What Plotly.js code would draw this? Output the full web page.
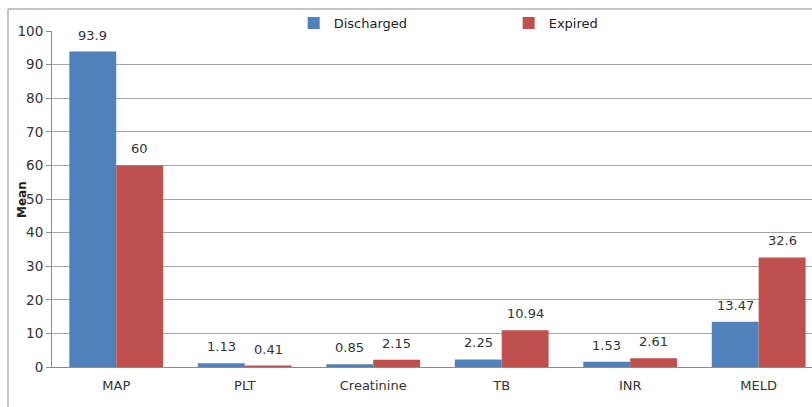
<!DOCTYPE html>
<html>
<head>
<meta charset="utf-8">
<script src="https://cdn.plot.ly/plotly-3.0.1.min.js"></script>
<style>html,body{margin:0;padding:0;overflow:hidden;background:#fff;}</style>
</head>
<body>
<div id="chart" style="width:812px;height:407px;"></div>
<script>
const categories = ["MAP", "PLT", "Creatinine", "TB", "INR", "MELD"];
const discharged = [93.9, 1.13, 0.85, 2.25, 1.53, 13.47];
const expired = [60, 0.41, 2.15, 10.94, 2.61, 32.6];
const dischargedLabels = ["93.9", "1.13", "0.85", "2.25", "1.53", "13.47"];
const expiredLabels = ["60", "0.41", "2.15", "10.94", "2.61", "32.6"];
const yTicks = [0, 10, 20, 30, 40, 50, 60, 70, 80, 90, 100];

const BLUE = "#4f81bd", RED = "#c0504d";
const FONT = "DejaVu Sans, Verdana, sans-serif";
const bargap = 0.27;
const half = (1 - bargap) / 4;

const traces = [
  {type: "bar", name: "Discharged", x: categories, y: discharged,
   marker: {color: BLUE}, hoverinfo: "none"},
  {type: "bar", name: "Expired", x: categories, y: expired,
   marker: {color: RED}, hoverinfo: "none"}
];

const annotations = [];
categories.forEach((c, i) => {
  annotations.push({x: i - half, y: discharged[i], xref: "x", yref: "y",
    text: dischargedLabels[i], showarrow: false, yanchor: "bottom", yshift: 7,
    font: {family: FONT, size: 13, color: "#333"}});
  annotations.push({x: i + half, y: expired[i], xref: "x", yref: "y",
    text: expiredLabels[i], showarrow: false, yanchor: "bottom", yshift: 7,
    font: {family: FONT, size: 13, color: "#333"}});
});
annotations.push({xref: "paper", yref: "paper", x: -0.0395, y: 0.5, xanchor: "center", yanchor: "middle",
  text: "<b>Mean</b>", textangle: -90, showarrow: false,
  font: {family: FONT, size: 12, color: "#222"}});

const layout = {
  width: 812, height: 407,
  margin: {l: 52, r: 0, t: 31, b: 40},
  paper_bgcolor: "#fff", plot_bgcolor: "#fff",
  barmode: "group", bargap: bargap, bargroupgap: 0,
  font: {family: FONT, size: 13, color: "#333"},
  showlegend: true,
  legend: {orientation: "h", x: 0.318, y: 1.024, xanchor: "left", yanchor: "middle",
    entrywidth: 170, entrywidthmode: "pixels",
    font: {family: FONT, size: 13, color: "#222"}, bgcolor: "rgba(0,0,0,0)"},
  xaxis: {type: "category", range: [-0.5, 5.415], showgrid: false,
    showline: true, linecolor: "#8c8c8c", linewidth: 1, ticks: "", ticklabelstandoff: 6,
    tickfont: {family: FONT, size: 13, color: "#333"}, fixedrange: true, zeroline: false},
  yaxis: {range: [0, 100], tickvals: yTicks, ticktext: yTicks.map(String),
    showgrid: true, gridcolor: "#a6a6a6", gridwidth: 1,
    showline: true, linecolor: "#8c8c8c", linewidth: 1,
    ticks: "outside", ticklen: 5, tickcolor: "#8c8c8c",
    tickfont: {family: FONT, size: 13.5, color: "#333"},
    zeroline: false, fixedrange: true},
  annotations: annotations,
  shapes: [
    {type: "line", xref: "paper", yref: "paper", x0: -0.0579, x1: 1.0, y0: 1.0655, y1: 1.0655,
     line: {color: "#8c8c8c", width: 1}},
    {type: "line", xref: "paper", yref: "paper", x0: -0.0579, x1: -0.0579, y0: 1.0655, y1: -0.13,
     line: {color: "#8c8c8c", width: 1}}
  ]
};

Plotly.newPlot("chart", traces, layout, {displayModeBar: false, staticPlot: true});
</script>
</body>
</html>
